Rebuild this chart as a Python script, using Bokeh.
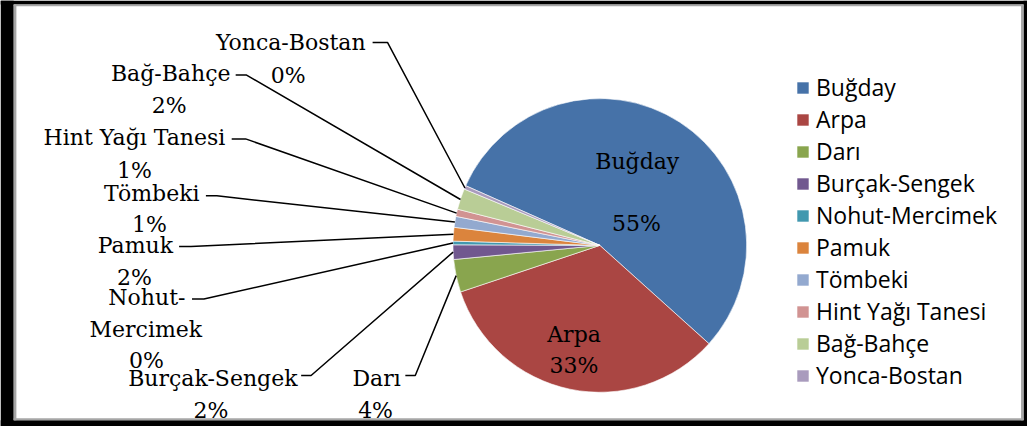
import math
from bokeh.plotting import figure
from bokeh.models import ColumnDataSource, Legend, LegendItem, Range1d
from bokeh.core.properties import value
from bokeh.embed import file_html
from bokeh.resources import INLINE

# ---------------- data ----------------
crops = ["Buğday", "Arpa", "Darı", "Burçak-Sengek", "Nohut-Mercimek",
         "Pamuk", "Tömbeki", "Hint Yağı Tanesi", "Bağ-Bahçe", "Yonca-Bostan"]
shares = [55.0, 33.2, 3.6, 1.6, 0.4, 1.5, 1.2, 0.8, 2.3, 0.4]
label_names = [["Buğday", ""], ["Arpa"], ["Darı"], ["Burçak-Sengek"],
               ["Nohut-", "Mercimek"], ["Pamuk"], ["Tömbeki"],
               ["Hint Yağı Tanesi"], ["Bağ-Bahçe"], ["Yonca-Bostan"]]
colors = ["#4672A8", "#AA4643", "#89A54E", "#71588F", "#4198AF",
          "#DB843D", "#93A9CF", "#D19392", "#B9CD96", "#A99BBD"]

# ---------------- layout (chart units, origin top-left of chart image) ----------------
W, H = 1027, 426
CW, CH = 1035, 434
def Y(sy):
    return CH - sy

CX, CY, R = 604, Y(249.5), 148
START = 156.0

# per-slice text line anchors (center x, baseline y)
line_pos = [
    [(641.7, 164), None, (641, 227)],
    [(578, 340), (578, 372)],
    [(379, 385), (378, 418)],
    [(214, 385), (212, 418)],
    [(147.5, 303), (146.5, 335), (147, 367)],
    [(136, 250), (135, 282)],
    [(152.5, 197), (150, 228)],
    [(135, 140), (135, 173)],
    [(171.5, 74), (170, 107)],
    [(292.5, 43), (290, 76)],
]
# leader stubs (x near text, x toward pie, y)
stubs = [None, None, (408, 418, 382), (303, 313, 382), (193, 205, 304),
         (180, 192, 250.5), (207, 218, 199), (233, 247, 141), (237, 248, 76),
         (375, 390, 42.7)]

# ---------------- geometry from data ----------------
total = sum(shares)
starts, ends, mids = [], [], []
cum = 0.0
for v in shares:
    a0 = START - cum / total * 360.0
    a1 = START - (cum + v) / total * 360.0
    starts.append(math.radians(a1))
    ends.append(math.radians(a0))
    mids.append(math.radians((a0 + a1) / 2))
    cum += v
pct = [f"{int(v / total * 100 + 0.5)}%" for v in shares]

p = figure(width=W, height=H, output_backend="svg", toolbar_location=None,
           x_range=Range1d(0, CW), y_range=Range1d(0, CH),
           min_border=0, outline_line_color=None)
p.xaxis.visible = False
p.yaxis.visible = False
p.xgrid.visible = False
p.ygrid.visible = False
p.background_fill_color = "white"
p.border_fill_color = "white"

# frame of the chart area (black surround + grey border)
p.quad(left=[0, 0, 1031, 0],
       right=[13.3, 1035, 1035, 1035],
       bottom=[Y(434), Y(434), Y(434), Y(4)],
       top=[Y(0), Y(427.7), Y(0), Y(0)],
       fill_color="black", line_color=None)
p.quad(left=[13.3, 1028.5, 13.3, 13.3],
       right=[16, 1031, 1031, 1031],
       bottom=[Y(427.7), Y(427.7), Y(427.7), Y(5.8)],
       top=[Y(4), Y(4), Y(425.5), Y(4)],
       fill_color="#A6A6A6", line_color=None)

src = ColumnDataSource(dict(name=crops, value=shares, start=starts, end=ends,
                            color=colors))
wr = p.wedge(x=CX, y=CY, radius=R, start_angle="start", end_angle="end",
             fill_color="color", line_color="white",
             line_width=0.6, source=src)

# leader lines
lx, ly = [], []
for i, s in enumerate(stubs):
    if s is None:
        continue
    px = CX + R * math.cos(mids[i])
    py = CY + R * math.sin(mids[i])
    lx.append([s[0], s[1], px])
    ly.append([Y(s[2]), Y(s[2]), py])
p.multi_line(xs=lx, ys=ly, line_color="black", line_width=1.5)

# data labels
tx, ty, tt = [], [], []
for i in range(len(crops)):
    texts = [t for t in label_names[i]] + [pct[i]]
    poss = line_pos[i]
    k = 0
    for t in texts:
        if t == "":
            continue
        while poss[k] is None:
            k += 1
        tx.append(poss[k][0]); ty.append(Y(poss[k][1])); tt.append(t)
        k += 1
p.text(x=tx, y=ty, text=tt, text_align="center", text_baseline="alphabetic",
       text_font=value("DejaVu Serif"), text_font_size=value("22px"),
       text_color="black")

legend = Legend(items=[LegendItem(label=n, renderers=[wr], index=i)
                       for i, n in enumerate(crops)],
                location=(795, 35), orientation="vertical",
                glyph_width=15, glyph_height=15, label_standoff=6,
                spacing=0, padding=0, margin=0, border_line_color=None,
                background_fill_alpha=0,
                label_text_font="Open Sans", label_text_font_size="23px",
                label_text_color="black")
p.add_layout(legend)

open("out.html", "w").write(file_html(p, INLINE))
